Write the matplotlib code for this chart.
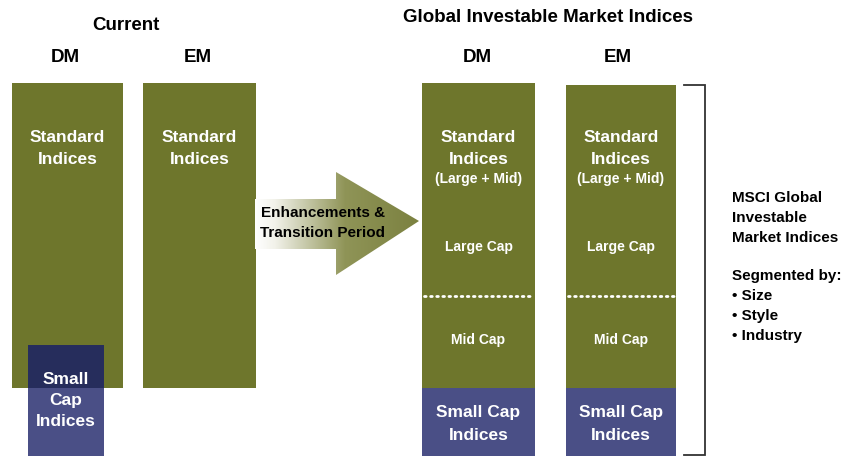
import matplotlib
matplotlib.use("Agg")
import matplotlib.pyplot as plt
import numpy as np
from matplotlib.patches import Rectangle, Polygon
from matplotlib.colors import LinearSegmentedColormap

# ---- content ----
title_left = "Current"
title_right = "Global Investable Market Indices"
markets = ["DM", "EM"]
current_label = ["Standard", "Indices"]
current_small = ["Small", "Cap", "Indices"]
gimi_standard = ["Standard", "Indices", "(Large + Mid)"]
gimi_segments = ["Large Cap", "Mid Cap"]
gimi_small = ["Small Cap", "Indices"]
arrow_text = ["Enhancements &", "Transition Period"]
side_title = ["MSCI Global", "Investable", "Market Indices"]
side_seg_title = "Segmented by:"
side_items = ["Size", "Style", "Industry"]

GREEN = "#6e762c"
BLUE = "#4a4f86"
NAVY = "#262d5c"
FONT = ["Liberation Sans", "DejaVu Sans"]
NARROW = ["Liberation Sans Narrow", "Liberation Sans", "DejaVu Sans"]

W, H = 849, 458
fig = plt.figure(figsize=(W / 100, H / 100), dpi=100)
ax = fig.add_axes([0, 0, 1, 1])
ax.set_xlim(0, W)
ax.set_ylim(H, 0)
ax.axis("off")


def txt(x, y, s, size=12.5, color="white", ha="center", family=FONT, **kw):
    ax.text(x, y, s, fontsize=size, color=color, ha=ha, va="center",
            fontweight="bold", family=family, **kw)


def rect(x0, y0, x1, y1, color, z=1):
    ax.add_patch(Rectangle((x0, y0), x1 - x0, y1 - y0, facecolor=color,
                           edgecolor="none", zorder=z))

# headers
txt(126, 26, title_left, size=13.5, color="black", family=NARROW)
txt(548, 18, title_right, size=13.5, color="black", family=NARROW)
for x, m in zip([65, 198, 477, 618], markets * 2):
    txt(x, 57, m, size=13.5, color="black", family=NARROW)

# current columns
for (x0, x1) in [(12, 123), (143, 256)]:
    rect(x0, 83, x1, 388, GREEN)
    cx = (x0 + x1) / 2
    txt(cx, 137, current_label[0])
    txt(cx, 159, current_label[1])

# current small cap (overlapping DM)
rect(28, 345, 104, 388, NAVY, z=2)
rect(28, 388, 104, 456, BLUE, z=2)
for y, s in zip([379, 400, 421], current_small):
    ax.text(66, y, s, fontsize=12.5, color="white", ha="center", va="center",
            fontweight="bold", family=FONT, zorder=3)

# arrow with gradient
arrow_pts = [(255, 199), (336, 199), (336, 172), (419, 221),
             (336, 275), (336, 249), (255, 249)]
poly = Polygon(arrow_pts, closed=True, facecolor="none", edgecolor="none")
ax.add_patch(poly)
cmap = LinearSegmentedColormap.from_list(
    "g", [(0, "#ffffff"), (0.12, "#f2f2ea"), (0.55, "#8f9457"), (1.0, "#7b8140")])
grad = np.linspace(0, 1, 256).reshape(1, -1)
im = ax.imshow(grad, extent=[255, 419, 275, 172], cmap=cmap, aspect="auto",
               zorder=1, interpolation="bilinear")
im.set_clip_path(poly)
ax.set_xlim(0, W)
ax.set_ylim(H, 0)
txt(323, 213, arrow_text[0], size=11, color="black")
txt(323, 233, arrow_text[1], size=11, color="black")

# GIMI columns
for (x0, x1, top) in [(422, 535, 83), (566, 676, 85)]:
    cx = (x0 + x1) / 2
    rect(x0, top, x1, 388, GREEN)
    rect(x0, 388, x1, 456, BLUE)
    ax.plot([x0 + 2, x1 - 2], [296, 296], color="white", lw=2,
            linestyle=(0, (0.6, 1.6)), dash_capstyle="round", zorder=3)
    txt(cx, 137, gimi_standard[0])
    txt(cx, 159, gimi_standard[1])
    txt(cx, 179, gimi_standard[2], size=10)
    txt(cx, 247, gimi_segments[0], size=10)
    txt(cx, 340, gimi_segments[1], size=10)
    txt(cx, 412, gimi_small[0])
    txt(cx, 435, gimi_small[1])

# bracket
ax.plot([684, 705, 705, 684], [85, 85, 455, 455], color="#333333", lw=1.3,
        solid_joinstyle="miter")

# side text
for i, s in enumerate(side_title):
    txt(732, 198 + 20 * i, s, size=11, color="black", ha="left")
txt(732, 276, side_seg_title, size=11, color="black", ha="left")
for i, s in enumerate(side_items):
    txt(732, 296 + 20 * i, "\u2022 " + s, size=11, color="black", ha="left")

fig.savefig("out.png", dpi=100)
